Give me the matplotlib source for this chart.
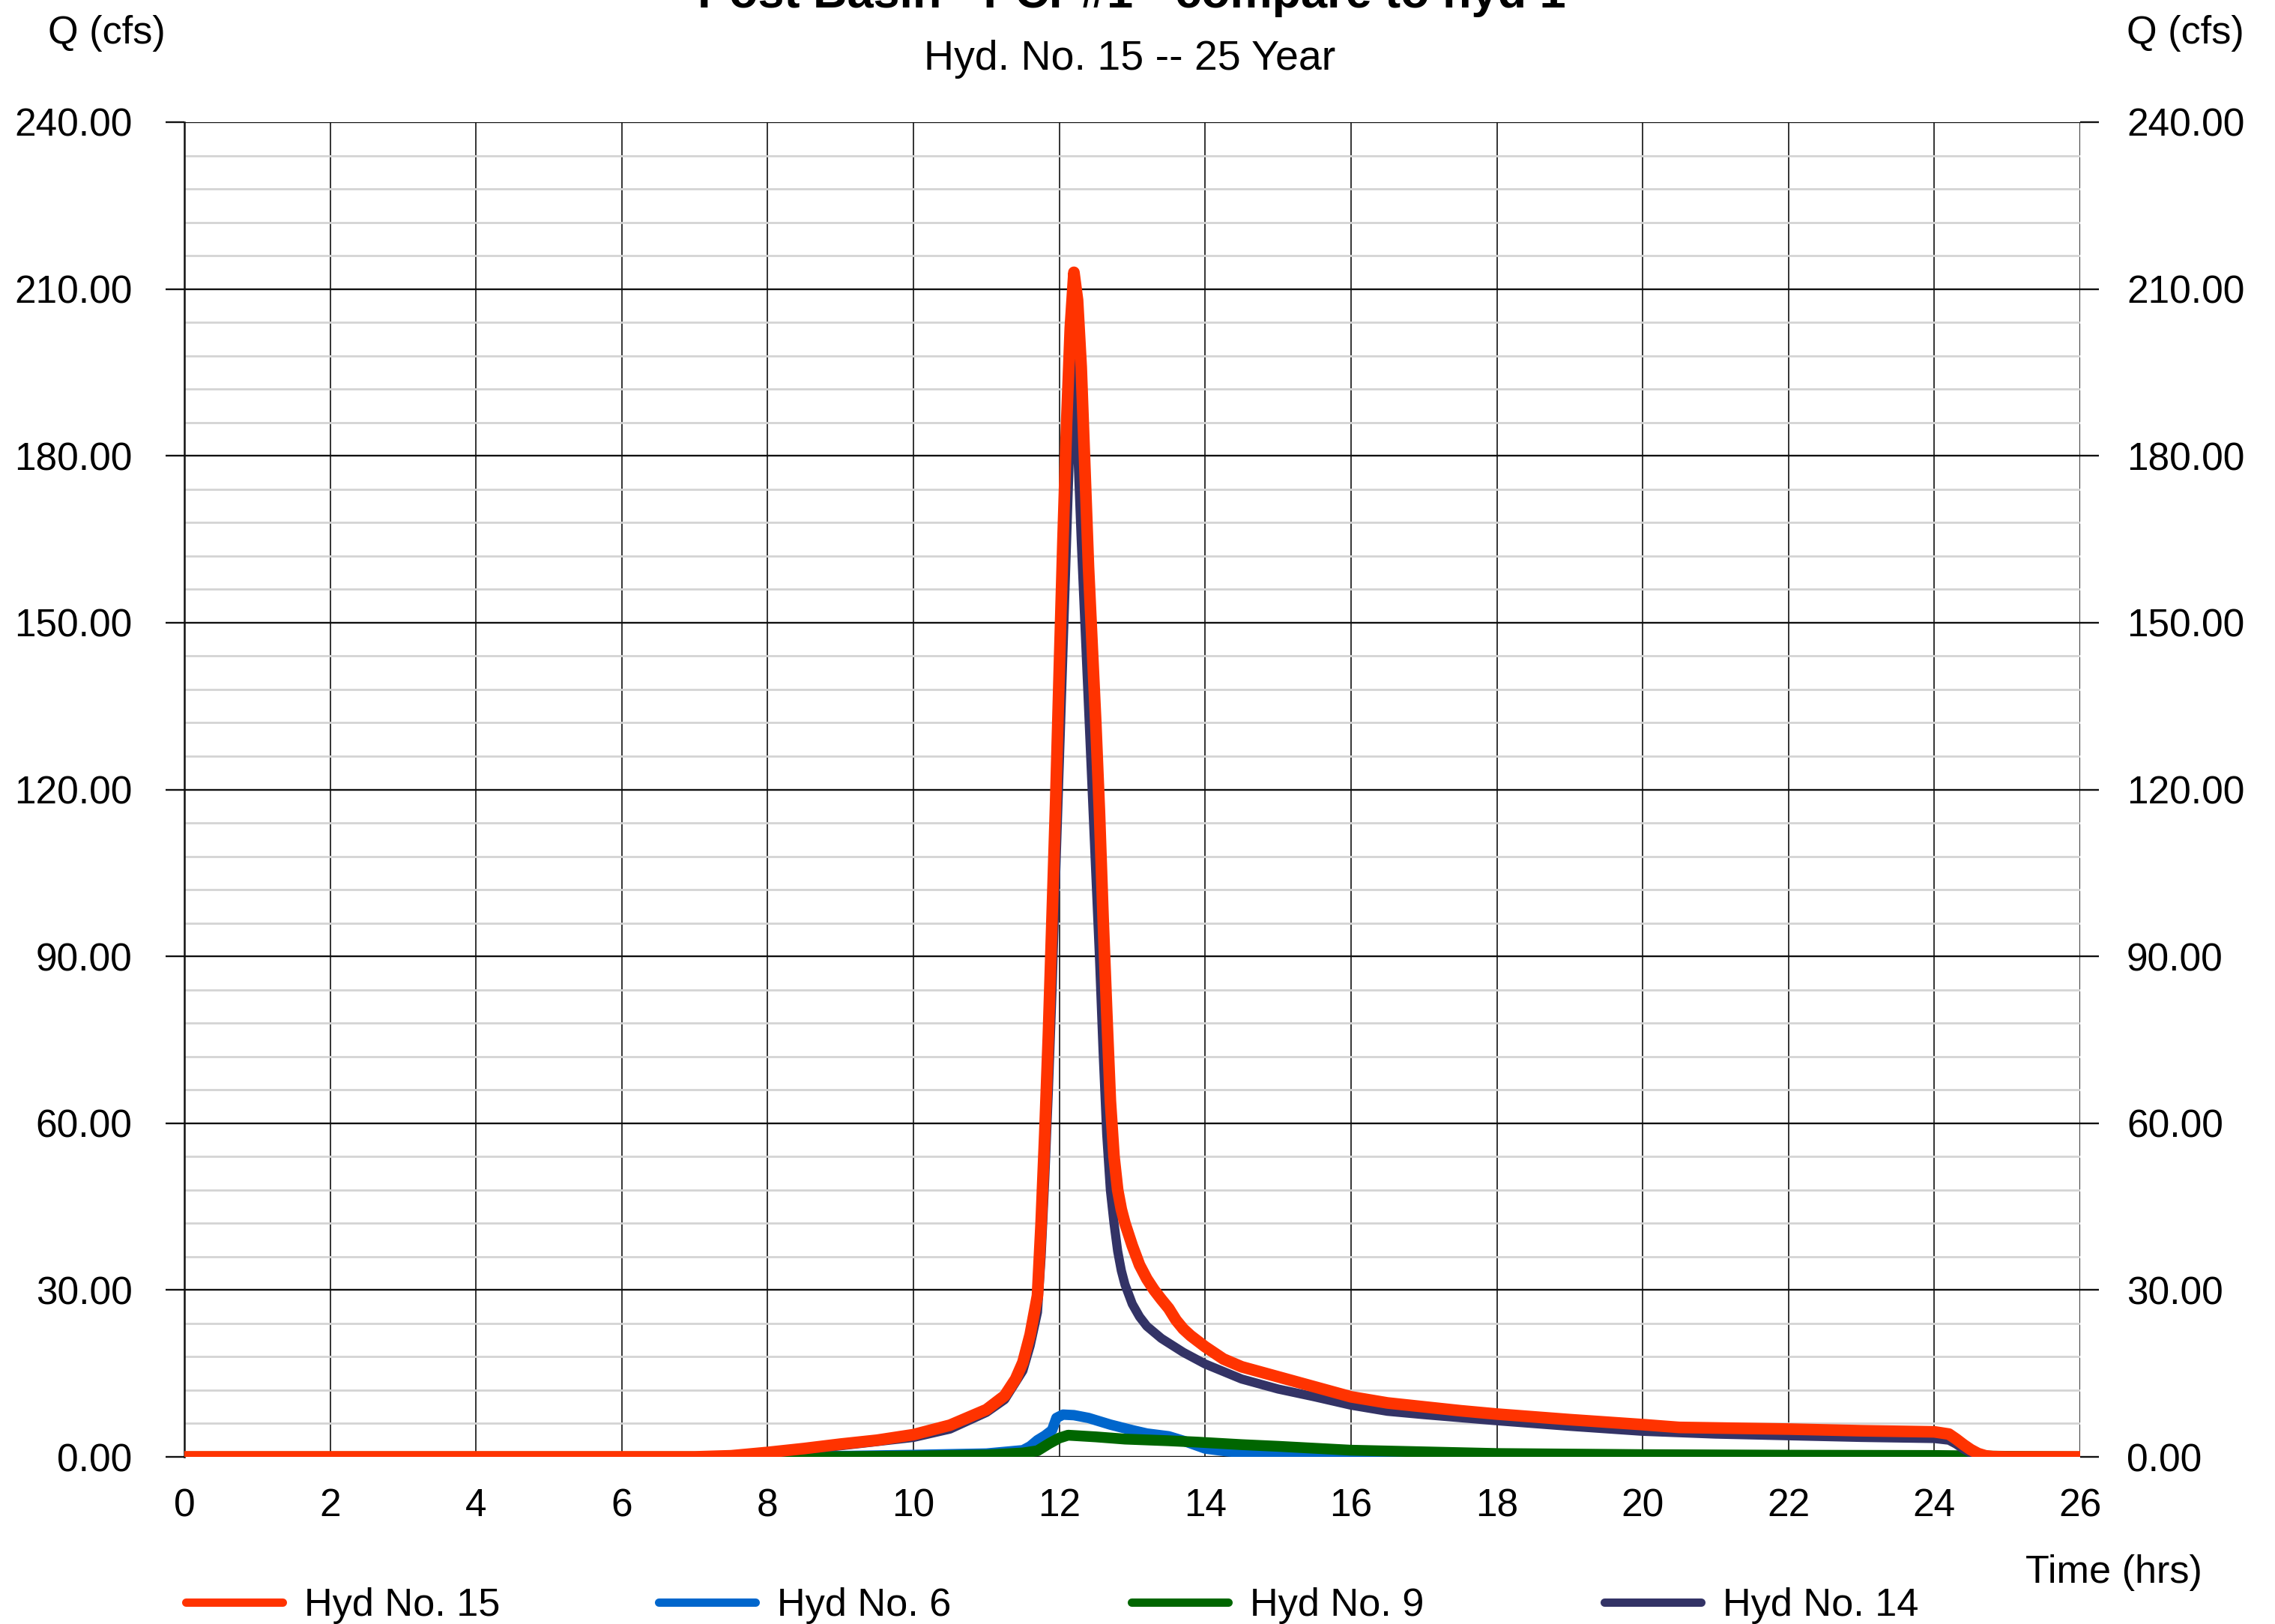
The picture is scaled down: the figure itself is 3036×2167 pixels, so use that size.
import matplotlib.pyplot as plt
from matplotlib.lines import Line2D
from matplotlib.ticker import MultipleLocator, FormatStrFormatter

plt.rcParams['font.family'] = ['Liberation Sans', 'DejaVu Sans']

# Hyd No. 15 (red)
t_15 = [0, 7.0, 7.5, 8.0, 8.5, 9.0, 9.5, 10.0, 10.5, 11.0, 11.25, 11.4, 11.5, 11.6, 11.7,
        11.75, 11.8, 11.85, 11.9, 11.95, 12.0, 12.05, 12.1, 12.15, 12.2, 12.25, 12.3, 12.35,
        12.4, 12.45, 12.5, 12.55, 12.6, 12.65, 12.7, 12.75, 12.8, 12.85, 12.9, 13.0, 13.1,
        13.2, 13.3, 13.4, 13.5, 13.6, 13.7, 13.8, 14.0, 14.25, 14.5, 15.0, 15.5, 16.0, 16.5,
        17.0, 17.5, 18.0, 19.0, 20.0, 20.5, 21.0, 22.0, 23.0, 24.0, 24.2, 24.3, 24.4, 24.5,
        24.6, 24.7, 24.8, 25.0, 26.0]
q_15 = [0, 0, 0.2, 0.8, 1.5, 2.3, 3.0, 4.0, 5.7, 8.5, 11.0, 14.0, 17.0, 22.0, 29.0,
        42.0, 58.0, 76.0, 97.0, 118.0, 142.0, 165.0, 186.0, 203.0, 213.0, 208.0, 196.0, 178.0,
        160.0, 146.0, 132.0, 116.0, 97.0, 80.0, 64.0, 54.0, 48.0, 44.5, 42.0, 38.0, 34.5,
        32.0, 30.0, 28.3, 26.7, 24.6, 23.0, 21.8, 19.8, 17.6, 16.2, 14.4, 12.6, 10.8, 9.7,
        9.0, 8.3, 7.7, 6.7, 5.8, 5.3, 5.2, 5.0, 4.7, 4.5, 4.1, 3.2, 2.2, 1.3,
        0.6, 0.2, 0.05, 0, 0]

# Hyd No. 14 (navy)
t_14 = [0, 7.0, 7.5, 8.0, 9.0, 10.0, 10.5, 11.0, 11.25, 11.5, 11.6, 11.7, 11.75, 11.8,
        11.85, 11.9, 11.95, 12.0, 12.05, 12.1, 12.15, 12.2, 12.25, 12.3, 12.35, 12.4, 12.45,
        12.5, 12.55, 12.6, 12.65, 12.7, 12.75, 12.8, 12.85, 12.9, 13.0, 13.1, 13.2, 13.4,
        13.7, 14.0, 14.5, 15.0, 15.5, 16.0, 16.5, 17.0, 18.0, 19.0, 20.0, 21.0, 22.0, 23.0,
        24.0, 24.2, 24.3, 24.4, 24.5, 24.6, 24.7, 26.0]
q_14 = [0, 0, 0.1, 0.6, 2.0, 3.5, 5.0, 8.0, 10.3, 15.5, 20.0, 26.0, 36.0, 50.0,
        66.0, 84.0, 105.0, 125.0, 145.0, 165.0, 185.0, 202.0, 182.0, 165.0, 150.0, 135.0, 120.0,
        105.0, 90.0, 73.0, 58.0, 48.0, 42.0, 37.0, 33.5, 31.0, 27.5, 25.2, 23.5, 21.3,
        18.8, 16.7, 14.0, 12.2, 10.8, 9.3, 8.2, 7.6, 6.5, 5.5, 4.6, 4.1, 3.8, 3.5,
        3.3, 3.0, 2.3, 1.4, 0.7, 0.2, 0, 0]

# Hyd No. 6 (blue)
t_6 = [0, 8.0, 9.0, 10.0, 11.0, 11.5, 11.6, 11.7, 11.8, 11.9, 11.96, 12.05, 12.2, 12.4,
       12.7, 13.0, 13.2, 13.5, 13.7, 14.0, 14.3, 14.6, 15.0, 16.0, 18.0, 20.0, 22.0, 24.0,
       24.5, 25.0, 26.0]
q_6 = [0, 0, 0.15, 0.35, 0.6, 1.2, 1.9, 3.0, 3.8, 4.8, 7.0, 7.6, 7.5, 7.0,
       5.8, 4.8, 4.2, 3.7, 2.9, 1.5, 1.0, 0.7, 0.6, 0.4, 0.3, 0.2, 0.15, 0.1,
       0.05, 0, 0]

# Hyd No. 9 (green)
t_9 = [0, 8.0, 9.0, 10.0, 11.0, 11.5, 11.7, 11.86, 12.0, 12.12, 12.5, 12.9, 13.5, 13.9,
       14.5, 15.0, 16.0, 17.0, 18.0, 20.0, 22.0, 24.0, 25.0, 26.0]
q_9 = [0, 0, 0.05, 0.15, 0.35, 0.7, 1.1, 2.4, 3.4, 3.9, 3.6, 3.2, 2.9, 2.65,
       2.2, 1.9, 1.2, 0.9, 0.6, 0.4, 0.3, 0.25, 0.1, 0]

legend_labels = ['Hyd No. 15', 'Hyd No. 6', 'Hyd No. 9', 'Hyd No. 14']
colors = {'Hyd No. 15': '#FF3300', 'Hyd No. 6': '#0066CC',
          'Hyd No. 9': '#006600', 'Hyd No. 14': '#333366'}

W, H = 3036, 2167
DPI = 200
fig = plt.figure(figsize=(W / DPI, H / DPI), dpi=DPI)
ax = fig.add_axes([246 / W, 1 - 1944 / H, (2776 - 246) / W, (1944 - 163) / H])

# series, drawn bottom to top
ax.plot(t_6, q_6, color=colors['Hyd No. 6'], lw=5.0, solid_capstyle='round',
        solid_joinstyle='round', zorder=3)
ax.plot(t_9, q_9, color=colors['Hyd No. 9'], lw=5.2, solid_capstyle='round',
        solid_joinstyle='round', zorder=4)
ax.plot(t_14, q_14, color=colors['Hyd No. 14'], lw=4.4, solid_capstyle='round',
        solid_joinstyle='round', zorder=5)
ax.plot(t_15, q_15, color=colors['Hyd No. 15'], lw=5.6, solid_capstyle='round',
        solid_joinstyle='round', zorder=6)

ax.set_xlim(0, 26)
ax.set_ylim(0, 240)
ax.xaxis.set_major_locator(MultipleLocator(2))
ax.yaxis.set_major_locator(MultipleLocator(30))
ax.yaxis.set_minor_locator(MultipleLocator(6))
ax.yaxis.set_major_formatter(FormatStrFormatter('%.2f'))

ax.grid(which='minor', axis='y', color='#d4d4d4', lw=1.0, zorder=0)
ax.grid(which='major', axis='y', color='#111111', lw=0.85, zorder=1)
ax.grid(which='major', axis='x', color='#111111', lw=0.6, zorder=1)
ax.set_axisbelow(True)

for s in ['top', 'bottom', 'right']:
    ax.spines[s].set_visible(False)
ax.spines['left'].set_color('#111111')
ax.spines['left'].set_linewidth(0.9)

ax.tick_params(axis='x', length=0, pad=14.8, labelsize=18.5)
ax.tick_params(axis='y', which='major', direction='out', length=9, width=0.85,
               color='#111111', pad=16, labelsize=18.5)
ax.tick_params(axis='y', which='minor', length=0)

# right side labels
ax2 = ax.twinx()
ax2.set_ylim(0, 240)
ax2.yaxis.set_major_locator(MultipleLocator(30))
ax2.yaxis.set_major_formatter(FormatStrFormatter('%.2f'))
ax2.tick_params(axis='y', direction='out', length=9, width=0.85, color='#111111',
                pad=13.3, labelsize=18.5)
for s in ax2.spines.values():
    s.set_visible(False)

# titles and axis texts (title runs off the top edge as in the original)
fig.text(1510 / W, 1 - 10 / H, 'Post Basin - PCP#1 - compare to hyd 1', ha='center',
         va='baseline', fontsize=22.7, fontweight='bold')
fig.text(1508 / W, 1 - 93 / H, 'Hyd. No. 15 -- 25 Year', ha='center', va='baseline',
         fontsize=20)
fig.text(64 / W, 1 - 58 / H, 'Q (cfs)', ha='left', va='baseline', fontsize=18.8)
fig.text(2838 / W, 1 - 58 / H, 'Q (cfs)', ha='left', va='baseline', fontsize=18.8)
fig.text(2703 / W, 1 - 2112 / H, 'Time (hrs)', ha='left', va='baseline', fontsize=18.8)

# legend along the bottom
for i, lab in enumerate(legend_labels):
    x0 = 248 + i * 631
    fig.add_artist(Line2D([x0 / W, (x0 + 129) / W], [1 - 2137.5 / H, 1 - 2137.5 / H],
                          color=colors[lab], lw=4.0, solid_capstyle='round'))
    fig.text((x0 + 158) / W, 1 - 2156 / H, lab, ha='left', va='baseline', fontsize=18.8)

fig.savefig('out.png', dpi=DPI, facecolor='white')
